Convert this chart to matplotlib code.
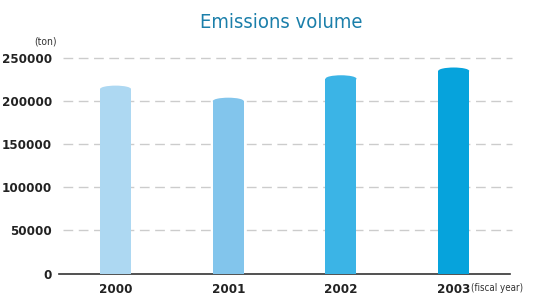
import matplotlib
matplotlib.use("Agg")
import matplotlib.pyplot as plt
from matplotlib.patches import Ellipse

years = ["2000", "2001", "2002", "2003"]
values = [218000, 204000, 230000, 239000]
colors = ["#ADD8F2", "#82C5EC", "#3BB4E6", "#06A3DC"]
yticks = [0, 50000, 100000, 150000, 200000, 250000]

plt.rcParams['font.family'] = ['DejaVu Sans']
plt.rcParams['font.stretch'] = 'condensed'

fig = plt.figure(figsize=(5.33, 2.98), dpi=100)
ax = fig.add_axes([0.111, 0.082, 0.846, 0.758])

cap = 4000
width = 0.275
x = list(range(len(years)))
for xi, v, c in zip(x, values, colors):
    ax.bar(xi, v - cap, width=width, color=c, zorder=3, linewidth=0)
    ax.add_patch(Ellipse((xi, v - cap), width, 2 * cap, color=c, zorder=3, linewidth=0))

ax.set_xlim(-0.5, 3.5)
ax.set_ylim(0, 262000)
ax.set_yticks(yticks)
ax.set_yticklabels([str(t) for t in yticks], fontsize=9.5, color="#222222",
                   fontstretch='condensed', fontweight='bold')
ax.set_xticks(x)
ax.set_xticklabels(years, fontsize=9.5, color="#222222", fontstretch='condensed',
                   fontweight='bold')
for t in yticks[1:]:
    ax.plot([-0.47, 3.52], [t, t], color="#CCCCCC", linestyle=(0, (7, 4)), linewidth=1.0,
            zorder=1, clip_on=False)
for s in ["top", "right", "left"]:
    ax.spines[s].set_visible(False)
ax.spines["bottom"].set_color("#333333")
ax.spines["bottom"].set_linewidth(1.2)
ax.tick_params(axis="both", length=0)
ax.tick_params(axis="x", pad=7)
ax.tick_params(axis="y", pad=5)

fig.text(0.527, 0.926, "Emissions volume", ha="center", va="center", fontsize=14.5,
         color="#1B7FAA", fontstretch='condensed')
fig.text(0.085, 0.86, "(ton)", ha="center", va="center", fontsize=7.5, color="#333333",
         fontstretch='condensed')
fig.text(0.932, 0.035, "(fiscal year)", ha="center", va="center", fontsize=7, color="#333333",
         fontstretch='condensed')

fig.savefig("out.png", dpi=100)
